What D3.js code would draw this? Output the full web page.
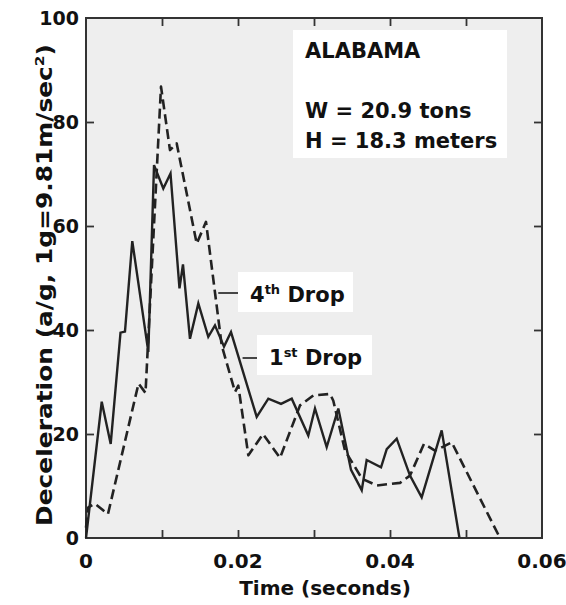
<!DOCTYPE html>
<html>
<head>
<meta charset="utf-8">
<script src="https://cdn.jsdelivr.net/npm/d3@7/dist/d3.min.js"></script>
<style>
  html, body { margin: 0; padding: 0; background: #ffffff; }
  svg { display: block; }
  text { font-family: "DejaVu Sans", sans-serif; fill: #111; }
</style>
</head>
<body>
<svg id="chart" width="566" height="605"></svg>
<script>
// ---- data ----
const drop1Time  = [0, 0.00207, 0.00325, 0.00454, 0.00513, 0.00609, 0.0082, 0.00895, 0.01017, 0.01112,
                    0.0123, 0.01276, 0.01368, 0.01478, 0.01609, 0.01697, 0.01816, 0.01908, 0.02246, 0.02399,
                    0.02566, 0.02707, 0.02925, 0.03013, 0.03167, 0.0332, 0.03487, 0.03628, 0.03693, 0.03882,
                    0.03957, 0.04088, 0.04263, 0.04417, 0.0468, 0.04914];
const drop1Decel = [0, 26.2, 18.1, 39.5, 39.7, 57.1, 35.8, 71.7, 67.2, 70.1,
                    48, 52.6, 38.3, 45.1, 38.7, 40.9, 36.8, 39.6, 23.3, 26.8,
                    25.8, 26.8, 19.7, 24.9, 17.5, 24.9, 13.1, 9.2, 15, 13.6,
                    17.1, 19.1, 12, 7.8, 20.7, 0];
const drop4Time  = [0, 0.0003, 0.00118, 0.00289, 0.00691, 0.00783, 0.00987, 0.01105, 0.01193, 0.01457,
                    0.01579, 0.01786, 0.01961, 0.02004, 0.02136, 0.02329, 0.02553, 0.02816, 0.02991, 0.03211,
                    0.03254, 0.03408, 0.03632, 0.03825, 0.04132, 0.04263, 0.04447, 0.04592, 0.04812, 0.05447];
const drop4Decel = [2, 5.9, 6.6, 4.6, 29.7, 27.9, 86.8, 74.6, 75.9, 56.6,
                    60.8, 37, 28.1, 29.3, 15.9, 20, 15.4, 25.5, 27.4, 27.7,
                    26.4, 16.8, 11.4, 10.1, 10.6, 12, 18.1, 16.8, 18.4, 0];
const xTickMinor = [0.01, 0.02, 0.03, 0.04, 0.05];
const xTickLabels = [0, 0.02, 0.04, 0.06];
const yTickMinor = [20, 40, 60, 80];
const yTickLabels = [0, 20, 40, 60, 80, 100];
const infoLines = ["ALABAMA", "W = 20.9 tons", "H = 18.3 meters"];

// ---- chart ----
const svg = d3.select("#chart");
const x = d3.scaleLinear().domain([0, 0.06]).range([86, 542]);
const y = d3.scaleLinear().domain([0, 100]).range([538, 18]);

const [x0, x1] = x.range();
const [yb, yt] = y.range();

// plot background (scanned paper look)
svg.append("rect").attr("x", x0).attr("y", yt).attr("width", x1 - x0).attr("height", yb - yt)
  .attr("fill", "#eeeeee");

// inside ticks via d3 axes
const tickLen = 8;
const axStyle = g => { g.select(".domain").remove(); g.selectAll("line").attr("stroke", "#333").attr("stroke-width", 1.8); g.selectAll("text").remove(); };
svg.append("g").attr("transform", `translate(0,${yb})`).call(d3.axisTop(x).tickValues(xTickMinor).tickSize(tickLen)).call(axStyle);
svg.append("g").attr("transform", `translate(0,${yt})`).call(d3.axisBottom(x).tickValues(xTickMinor).tickSize(tickLen)).call(axStyle);
svg.append("g").attr("transform", `translate(${x0},0)`).call(d3.axisRight(y).tickValues(yTickMinor).tickSize(tickLen)).call(axStyle);
svg.append("g").attr("transform", `translate(${x1},0)`).call(d3.axisLeft(y).tickValues(yTickMinor).tickSize(tickLen)).call(axStyle);

// frame
svg.append("rect").attr("x", x0).attr("y", yt).attr("width", x1 - x0).attr("height", yb - yt)
  .attr("fill", "none").attr("stroke", "#333").attr("stroke-width", 2);

// lines
const line = d3.line().x(d => x(d[0])).y(d => y(d[1]));
const s1 = drop1Time.map((t, i) => [t, drop1Decel[i]]);
const s4 = drop4Time.map((t, i) => [t, drop4Decel[i]]);
svg.append("path").datum(s4).attr("d", line).attr("fill", "none").attr("stroke", "#222")
  .attr("stroke-width", 2.6).attr("stroke-dasharray", "10,5").attr("stroke-linejoin", "round");
svg.append("path").datum(s1).attr("d", line).attr("fill", "none").attr("stroke", "#222")
  .attr("stroke-width", 2.4).attr("stroke-linejoin", "miter");

// tick labels
svg.append("g").selectAll("text").data(yTickLabels).join("text")
  .attr("x", 79).attr("y", d => y(d)).attr("dy", "0.36em").attr("text-anchor", "end")
  .attr("font-size", 19).attr("font-weight", "bold").text(d => d);
svg.append("g").selectAll("text").data(xTickLabels).join("text")
  .attr("x", d => x(d)).attr("y", 568).attr("text-anchor", "middle")
  .attr("font-size", 20).attr("font-weight", "bold").text(d => d === 0 ? "0" : d3.format(".2f")(d));

// axis titles
svg.append("text").attr("x", 325).attr("y", 595).attr("text-anchor", "middle")
  .attr("font-size", 20).attr("font-weight", "bold").text("Time (seconds)");
const yt2 = svg.append("text").attr("transform", "translate(52,285) rotate(-90)").attr("text-anchor", "middle")
  .attr("font-size", 21).attr("font-weight", "bold")
  .attr("textLength", 482).attr("lengthAdjust", "spacingAndGlyphs");
yt2.append("tspan").text("Deceleration (a/g,  1g=9.81m/sec");
yt2.append("tspan").attr("font-size", 13).attr("dy", -8).text("2");
yt2.append("tspan").attr("dy", 8).text(")");

// info box
svg.append("rect").attr("x", 293).attr("y", 30).attr("width", 214).attr("height", 128).attr("fill", "#ffffff");
svg.append("g").selectAll("text").data(infoLines).join("text")
  .attr("x", 305).attr("y", (d, i) => [58, 118, 148][i])
  .attr("font-size", 21).attr("font-weight", "bold").text(d => d);

// drop labels
function dropLabel(bx, by, bw, lx0, ly, num, sup) {
  svg.append("line").attr("x1", lx0).attr("x2", bx).attr("y1", ly).attr("y2", ly)
    .attr("stroke", "#333").attr("stroke-width", 1.8);
  svg.append("rect").attr("x", bx).attr("y", by).attr("width", bw).attr("height", 40).attr("fill", "#ffffff");
  const t = svg.append("text").attr("x", bx + 12).attr("y", by + 30).attr("font-size", 21).attr("font-weight", "bold");
  t.append("tspan").text(num);
  t.append("tspan").attr("font-size", 13).attr("dy", -8).text(sup);
  t.append("tspan").attr("dy", 8).text(" Drop");
}
dropLabel(238, 272, 115, x(0.0174), 293, "4", "th");
dropLabel(257, 335, 115, x(0.0206), 358, "1", "st");
</script>
</body>
</html>
